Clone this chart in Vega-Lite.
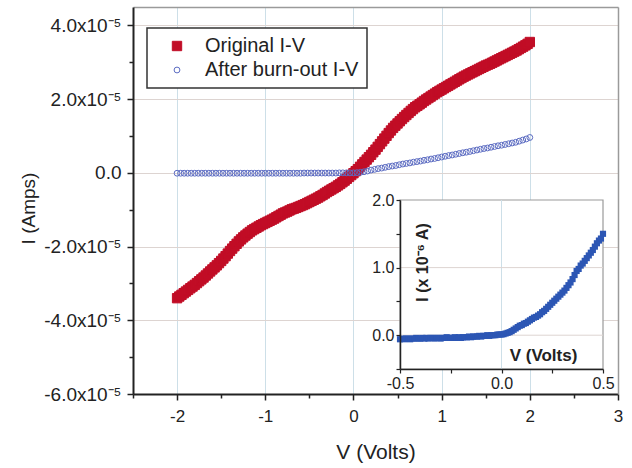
{
  "$schema": "https://vega.github.io/schema/vega-lite/v6.json",
  "width": 485,
  "height": 387,
  "autosize": {"type": "none"},
  "padding": {"left": 133, "top": 7, "right": 14, "bottom": 74},
  "background": "white",
  "config": {
    "font": "Liberation Sans",
    "view": {"stroke": null},
    "legend": {
      "orient": "none",
      "strokeColor": "#333333",
      "strokeWidth": 1.5,
      "fillColor": "white",
      "padding": 8,
      "labelFontSize": 20,
      "labelColor": "#222222",
      "symbolOffset": 12,
      "labelOffset": 18,
      "rowPadding": 4,
      "symbolStrokeWidth": 1
    }
  },
  "datasets": {
    "main": [
      {"series": "Original I-V", "V": -2.000, "I": -3.400e-5},
      {"series": "Original I-V", "V": -1.975, "I": -3.355e-5},
      {"series": "Original I-V", "V": -1.950, "I": -3.310e-5},
      {"series": "Original I-V", "V": -1.925, "I": -3.265e-5},
      {"series": "Original I-V", "V": -1.900, "I": -3.220e-5},
      {"series": "Original I-V", "V": -1.875, "I": -3.175e-5},
      {"series": "Original I-V", "V": -1.850, "I": -3.130e-5},
      {"series": "Original I-V", "V": -1.825, "I": -3.085e-5},
      {"series": "Original I-V", "V": -1.800, "I": -3.040e-5},
      {"series": "Original I-V", "V": -1.775, "I": -2.990e-5},
      {"series": "Original I-V", "V": -1.750, "I": -2.940e-5},
      {"series": "Original I-V", "V": -1.725, "I": -2.890e-5},
      {"series": "Original I-V", "V": -1.700, "I": -2.840e-5},
      {"series": "Original I-V", "V": -1.675, "I": -2.785e-5},
      {"series": "Original I-V", "V": -1.650, "I": -2.730e-5},
      {"series": "Original I-V", "V": -1.625, "I": -2.675e-5},
      {"series": "Original I-V", "V": -1.600, "I": -2.620e-5},
      {"series": "Original I-V", "V": -1.575, "I": -2.565e-5},
      {"series": "Original I-V", "V": -1.550, "I": -2.510e-5},
      {"series": "Original I-V", "V": -1.525, "I": -2.450e-5},
      {"series": "Original I-V", "V": -1.500, "I": -2.390e-5},
      {"series": "Original I-V", "V": -1.475, "I": -2.325e-5},
      {"series": "Original I-V", "V": -1.450, "I": -2.260e-5},
      {"series": "Original I-V", "V": -1.425, "I": -2.190e-5},
      {"series": "Original I-V", "V": -1.400, "I": -2.120e-5},
      {"series": "Original I-V", "V": -1.375, "I": -2.055e-5},
      {"series": "Original I-V", "V": -1.350, "I": -1.990e-5},
      {"series": "Original I-V", "V": -1.325, "I": -1.925e-5},
      {"series": "Original I-V", "V": -1.300, "I": -1.860e-5},
      {"series": "Original I-V", "V": -1.275, "I": -1.805e-5},
      {"series": "Original I-V", "V": -1.250, "I": -1.750e-5},
      {"series": "Original I-V", "V": -1.225, "I": -1.700e-5},
      {"series": "Original I-V", "V": -1.200, "I": -1.650e-5},
      {"series": "Original I-V", "V": -1.175, "I": -1.605e-5},
      {"series": "Original I-V", "V": -1.150, "I": -1.560e-5},
      {"series": "Original I-V", "V": -1.125, "I": -1.525e-5},
      {"series": "Original I-V", "V": -1.100, "I": -1.490e-5},
      {"series": "Original I-V", "V": -1.075, "I": -1.455e-5},
      {"series": "Original I-V", "V": -1.050, "I": -1.420e-5},
      {"series": "Original I-V", "V": -1.025, "I": -1.390e-5},
      {"series": "Original I-V", "V": -1.000, "I": -1.360e-5},
      {"series": "Original I-V", "V": -0.975, "I": -1.330e-5},
      {"series": "Original I-V", "V": -0.950, "I": -1.300e-5},
      {"series": "Original I-V", "V": -0.925, "I": -1.270e-5},
      {"series": "Original I-V", "V": -0.900, "I": -1.240e-5},
      {"series": "Original I-V", "V": -0.875, "I": -1.205e-5},
      {"series": "Original I-V", "V": -0.850, "I": -1.170e-5},
      {"series": "Original I-V", "V": -0.825, "I": -1.135e-5},
      {"series": "Original I-V", "V": -0.800, "I": -1.100e-5},
      {"series": "Original I-V", "V": -0.775, "I": -1.075e-5},
      {"series": "Original I-V", "V": -0.750, "I": -1.050e-5},
      {"series": "Original I-V", "V": -0.725, "I": -1.020e-5},
      {"series": "Original I-V", "V": -0.700, "I": -0.990e-5},
      {"series": "Original I-V", "V": -0.675, "I": -0.970e-5},
      {"series": "Original I-V", "V": -0.650, "I": -0.950e-5},
      {"series": "Original I-V", "V": -0.625, "I": -0.925e-5},
      {"series": "Original I-V", "V": -0.600, "I": -0.900e-5},
      {"series": "Original I-V", "V": -0.575, "I": -0.875e-5},
      {"series": "Original I-V", "V": -0.550, "I": -0.850e-5},
      {"series": "Original I-V", "V": -0.525, "I": -0.820e-5},
      {"series": "Original I-V", "V": -0.500, "I": -0.790e-5},
      {"series": "Original I-V", "V": -0.475, "I": -0.760e-5},
      {"series": "Original I-V", "V": -0.450, "I": -0.730e-5},
      {"series": "Original I-V", "V": -0.425, "I": -0.700e-5},
      {"series": "Original I-V", "V": -0.400, "I": -0.670e-5},
      {"series": "Original I-V", "V": -0.375, "I": -0.635e-5},
      {"series": "Original I-V", "V": -0.350, "I": -0.600e-5},
      {"series": "Original I-V", "V": -0.325, "I": -0.560e-5},
      {"series": "Original I-V", "V": -0.300, "I": -0.520e-5},
      {"series": "Original I-V", "V": -0.275, "I": -0.485e-5},
      {"series": "Original I-V", "V": -0.250, "I": -0.450e-5},
      {"series": "Original I-V", "V": -0.225, "I": -0.415e-5},
      {"series": "Original I-V", "V": -0.200, "I": -0.380e-5},
      {"series": "Original I-V", "V": -0.175, "I": -0.340e-5},
      {"series": "Original I-V", "V": -0.150, "I": -0.300e-5},
      {"series": "Original I-V", "V": -0.125, "I": -0.255e-5},
      {"series": "Original I-V", "V": -0.100, "I": -0.210e-5},
      {"series": "Original I-V", "V": -0.075, "I": -0.160e-5},
      {"series": "Original I-V", "V": -0.050, "I": -0.110e-5},
      {"series": "Original I-V", "V": -0.025, "I": -0.060e-5},
      {"series": "Original I-V", "V": 0.000, "I": -0.010e-5},
      {"series": "Original I-V", "V": 0.025, "I": 0.045e-5},
      {"series": "Original I-V", "V": 0.050, "I": 0.100e-5},
      {"series": "Original I-V", "V": 0.075, "I": 0.165e-5},
      {"series": "Original I-V", "V": 0.100, "I": 0.230e-5},
      {"series": "Original I-V", "V": 0.125, "I": 0.295e-5},
      {"series": "Original I-V", "V": 0.150, "I": 0.360e-5},
      {"series": "Original I-V", "V": 0.175, "I": 0.425e-5},
      {"series": "Original I-V", "V": 0.200, "I": 0.490e-5},
      {"series": "Original I-V", "V": 0.225, "I": 0.560e-5},
      {"series": "Original I-V", "V": 0.250, "I": 0.630e-5},
      {"series": "Original I-V", "V": 0.275, "I": 0.705e-5},
      {"series": "Original I-V", "V": 0.300, "I": 0.780e-5},
      {"series": "Original I-V", "V": 0.325, "I": 0.855e-5},
      {"series": "Original I-V", "V": 0.350, "I": 0.930e-5},
      {"series": "Original I-V", "V": 0.375, "I": 1.005e-5},
      {"series": "Original I-V", "V": 0.400, "I": 1.080e-5},
      {"series": "Original I-V", "V": 0.425, "I": 1.150e-5},
      {"series": "Original I-V", "V": 0.450, "I": 1.220e-5},
      {"series": "Original I-V", "V": 0.475, "I": 1.280e-5},
      {"series": "Original I-V", "V": 0.500, "I": 1.340e-5},
      {"series": "Original I-V", "V": 0.525, "I": 1.400e-5},
      {"series": "Original I-V", "V": 0.550, "I": 1.460e-5},
      {"series": "Original I-V", "V": 0.575, "I": 1.515e-5},
      {"series": "Original I-V", "V": 0.600, "I": 1.570e-5},
      {"series": "Original I-V", "V": 0.625, "I": 1.625e-5},
      {"series": "Original I-V", "V": 0.650, "I": 1.680e-5},
      {"series": "Original I-V", "V": 0.675, "I": 1.730e-5},
      {"series": "Original I-V", "V": 0.700, "I": 1.780e-5},
      {"series": "Original I-V", "V": 0.725, "I": 1.820e-5},
      {"series": "Original I-V", "V": 0.750, "I": 1.860e-5},
      {"series": "Original I-V", "V": 0.775, "I": 1.905e-5},
      {"series": "Original I-V", "V": 0.800, "I": 1.950e-5},
      {"series": "Original I-V", "V": 0.825, "I": 1.990e-5},
      {"series": "Original I-V", "V": 0.850, "I": 2.030e-5},
      {"series": "Original I-V", "V": 0.875, "I": 2.070e-5},
      {"series": "Original I-V", "V": 0.900, "I": 2.110e-5},
      {"series": "Original I-V", "V": 0.925, "I": 2.150e-5},
      {"series": "Original I-V", "V": 0.950, "I": 2.190e-5},
      {"series": "Original I-V", "V": 0.975, "I": 2.225e-5},
      {"series": "Original I-V", "V": 1.000, "I": 2.260e-5},
      {"series": "Original I-V", "V": 1.025, "I": 2.295e-5},
      {"series": "Original I-V", "V": 1.050, "I": 2.330e-5},
      {"series": "Original I-V", "V": 1.075, "I": 2.365e-5},
      {"series": "Original I-V", "V": 1.100, "I": 2.400e-5},
      {"series": "Original I-V", "V": 1.125, "I": 2.435e-5},
      {"series": "Original I-V", "V": 1.150, "I": 2.470e-5},
      {"series": "Original I-V", "V": 1.175, "I": 2.505e-5},
      {"series": "Original I-V", "V": 1.200, "I": 2.540e-5},
      {"series": "Original I-V", "V": 1.225, "I": 2.575e-5},
      {"series": "Original I-V", "V": 1.250, "I": 2.610e-5},
      {"series": "Original I-V", "V": 1.275, "I": 2.640e-5},
      {"series": "Original I-V", "V": 1.300, "I": 2.670e-5},
      {"series": "Original I-V", "V": 1.325, "I": 2.700e-5},
      {"series": "Original I-V", "V": 1.350, "I": 2.730e-5},
      {"series": "Original I-V", "V": 1.375, "I": 2.760e-5},
      {"series": "Original I-V", "V": 1.400, "I": 2.790e-5},
      {"series": "Original I-V", "V": 1.425, "I": 2.820e-5},
      {"series": "Original I-V", "V": 1.450, "I": 2.850e-5},
      {"series": "Original I-V", "V": 1.475, "I": 2.880e-5},
      {"series": "Original I-V", "V": 1.500, "I": 2.910e-5},
      {"series": "Original I-V", "V": 1.525, "I": 2.935e-5},
      {"series": "Original I-V", "V": 1.550, "I": 2.960e-5},
      {"series": "Original I-V", "V": 1.575, "I": 2.990e-5},
      {"series": "Original I-V", "V": 1.600, "I": 3.020e-5},
      {"series": "Original I-V", "V": 1.625, "I": 3.050e-5},
      {"series": "Original I-V", "V": 1.650, "I": 3.080e-5},
      {"series": "Original I-V", "V": 1.675, "I": 3.110e-5},
      {"series": "Original I-V", "V": 1.700, "I": 3.140e-5},
      {"series": "Original I-V", "V": 1.725, "I": 3.170e-5},
      {"series": "Original I-V", "V": 1.750, "I": 3.200e-5},
      {"series": "Original I-V", "V": 1.775, "I": 3.230e-5},
      {"series": "Original I-V", "V": 1.800, "I": 3.260e-5},
      {"series": "Original I-V", "V": 1.825, "I": 3.290e-5},
      {"series": "Original I-V", "V": 1.850, "I": 3.320e-5},
      {"series": "Original I-V", "V": 1.875, "I": 3.355e-5},
      {"series": "Original I-V", "V": 1.900, "I": 3.390e-5},
      {"series": "Original I-V", "V": 1.925, "I": 3.425e-5},
      {"series": "Original I-V", "V": 1.950, "I": 3.460e-5},
      {"series": "Original I-V", "V": 1.975, "I": 3.500e-5},
      {"series": "Original I-V", "V": 2.000, "I": 3.550e-5},
      {"series": "After burn-out I-V", "V": -2.00, "I": -1e-7},
      {"series": "After burn-out I-V", "V": -1.96, "I": -1e-7},
      {"series": "After burn-out I-V", "V": -1.92, "I": -1e-7},
      {"series": "After burn-out I-V", "V": -1.88, "I": -1e-7},
      {"series": "After burn-out I-V", "V": -1.84, "I": -1e-7},
      {"series": "After burn-out I-V", "V": -1.80, "I": -1e-7},
      {"series": "After burn-out I-V", "V": -1.76, "I": -1e-7},
      {"series": "After burn-out I-V", "V": -1.72, "I": -1e-7},
      {"series": "After burn-out I-V", "V": -1.68, "I": -1e-7},
      {"series": "After burn-out I-V", "V": -1.64, "I": -1e-7},
      {"series": "After burn-out I-V", "V": -1.60, "I": -1e-7},
      {"series": "After burn-out I-V", "V": -1.56, "I": -1e-7},
      {"series": "After burn-out I-V", "V": -1.52, "I": -1e-7},
      {"series": "After burn-out I-V", "V": -1.48, "I": -1e-7},
      {"series": "After burn-out I-V", "V": -1.44, "I": -1e-7},
      {"series": "After burn-out I-V", "V": -1.40, "I": -1e-7},
      {"series": "After burn-out I-V", "V": -1.36, "I": -1e-7},
      {"series": "After burn-out I-V", "V": -1.32, "I": -1e-7},
      {"series": "After burn-out I-V", "V": -1.28, "I": -1e-7},
      {"series": "After burn-out I-V", "V": -1.24, "I": -1e-7},
      {"series": "After burn-out I-V", "V": -1.20, "I": -1e-7},
      {"series": "After burn-out I-V", "V": -1.16, "I": -1e-7},
      {"series": "After burn-out I-V", "V": -1.12, "I": -1e-7},
      {"series": "After burn-out I-V", "V": -1.08, "I": -1e-7},
      {"series": "After burn-out I-V", "V": -1.04, "I": -1e-7},
      {"series": "After burn-out I-V", "V": -1.00, "I": -1e-7},
      {"series": "After burn-out I-V", "V": -0.96, "I": -1e-7},
      {"series": "After burn-out I-V", "V": -0.92, "I": -1e-7},
      {"series": "After burn-out I-V", "V": -0.88, "I": -1e-7},
      {"series": "After burn-out I-V", "V": -0.84, "I": -1e-7},
      {"series": "After burn-out I-V", "V": -0.80, "I": -1e-7},
      {"series": "After burn-out I-V", "V": -0.76, "I": -1e-7},
      {"series": "After burn-out I-V", "V": -0.72, "I": -1e-7},
      {"series": "After burn-out I-V", "V": -0.68, "I": -1e-7},
      {"series": "After burn-out I-V", "V": -0.64, "I": -1e-7},
      {"series": "After burn-out I-V", "V": -0.60, "I": -1e-7},
      {"series": "After burn-out I-V", "V": -0.56, "I": -5e-8},
      {"series": "After burn-out I-V", "V": -0.52, "I": -5e-8},
      {"series": "After burn-out I-V", "V": -0.48, "I": -5e-8},
      {"series": "After burn-out I-V", "V": -0.44, "I": -5e-8},
      {"series": "After burn-out I-V", "V": -0.40, "I": -5e-8},
      {"series": "After burn-out I-V", "V": -0.36, "I": -5e-8},
      {"series": "After burn-out I-V", "V": -0.32, "I": -5e-8},
      {"series": "After burn-out I-V", "V": -0.28, "I": -5e-8},
      {"series": "After burn-out I-V", "V": -0.24, "I": -5e-8},
      {"series": "After burn-out I-V", "V": -0.20, "I": -5e-8},
      {"series": "After burn-out I-V", "V": -0.16, "I": 0},
      {"series": "After burn-out I-V", "V": -0.12, "I": 0},
      {"series": "After burn-out I-V", "V": -0.08, "I": 0},
      {"series": "After burn-out I-V", "V": -0.04, "I": 0},
      {"series": "After burn-out I-V", "V": 0.00, "I": 0},
      {"series": "After burn-out I-V", "V": 0.04, "I": 5e-8},
      {"series": "After burn-out I-V", "V": 0.08, "I": 1.5e-7},
      {"series": "After burn-out I-V", "V": 0.12, "I": 3e-7},
      {"series": "After burn-out I-V", "V": 0.16, "I": 5e-7},
      {"series": "After burn-out I-V", "V": 0.20, "I": 7.5e-7},
      {"series": "After burn-out I-V", "V": 0.24, "I": 9.5e-7},
      {"series": "After burn-out I-V", "V": 0.28, "I": 1.15e-6},
      {"series": "After burn-out I-V", "V": 0.32, "I": 1.3e-6},
      {"series": "After burn-out I-V", "V": 0.36, "I": 1.5e-6},
      {"series": "After burn-out I-V", "V": 0.40, "I": 1.7e-6},
      {"series": "After burn-out I-V", "V": 0.44, "I": 1.85e-6},
      {"series": "After burn-out I-V", "V": 0.48, "I": 2.0e-6},
      {"series": "After burn-out I-V", "V": 0.52, "I": 2.2e-6},
      {"series": "After burn-out I-V", "V": 0.56, "I": 2.4e-6},
      {"series": "After burn-out I-V", "V": 0.60, "I": 2.55e-6},
      {"series": "After burn-out I-V", "V": 0.64, "I": 2.7e-6},
      {"series": "After burn-out I-V", "V": 0.68, "I": 2.9e-6},
      {"series": "After burn-out I-V", "V": 0.72, "I": 3.05e-6},
      {"series": "After burn-out I-V", "V": 0.76, "I": 3.2e-6},
      {"series": "After burn-out I-V", "V": 0.80, "I": 3.4e-6},
      {"series": "After burn-out I-V", "V": 0.84, "I": 3.55e-6},
      {"series": "After burn-out I-V", "V": 0.88, "I": 3.75e-6},
      {"series": "After burn-out I-V", "V": 0.92, "I": 3.9e-6},
      {"series": "After burn-out I-V", "V": 0.96, "I": 4.1e-6},
      {"series": "After burn-out I-V", "V": 1.00, "I": 4.3e-6},
      {"series": "After burn-out I-V", "V": 1.04, "I": 4.5e-6},
      {"series": "After burn-out I-V", "V": 1.08, "I": 4.7e-6},
      {"series": "After burn-out I-V", "V": 1.12, "I": 4.85e-6},
      {"series": "After burn-out I-V", "V": 1.16, "I": 5.05e-6},
      {"series": "After burn-out I-V", "V": 1.20, "I": 5.25e-6},
      {"series": "After burn-out I-V", "V": 1.24, "I": 5.45e-6},
      {"series": "After burn-out I-V", "V": 1.28, "I": 5.6e-6},
      {"series": "After burn-out I-V", "V": 1.32, "I": 5.8e-6},
      {"series": "After burn-out I-V", "V": 1.36, "I": 6.0e-6},
      {"series": "After burn-out I-V", "V": 1.40, "I": 6.2e-6},
      {"series": "After burn-out I-V", "V": 1.44, "I": 6.4e-6},
      {"series": "After burn-out I-V", "V": 1.48, "I": 6.6e-6},
      {"series": "After burn-out I-V", "V": 1.52, "I": 6.75e-6},
      {"series": "After burn-out I-V", "V": 1.56, "I": 6.95e-6},
      {"series": "After burn-out I-V", "V": 1.60, "I": 7.15e-6},
      {"series": "After burn-out I-V", "V": 1.64, "I": 7.35e-6},
      {"series": "After burn-out I-V", "V": 1.68, "I": 7.5e-6},
      {"series": "After burn-out I-V", "V": 1.72, "I": 7.7e-6},
      {"series": "After burn-out I-V", "V": 1.76, "I": 7.9e-6},
      {"series": "After burn-out I-V", "V": 1.80, "I": 8.1e-6},
      {"series": "After burn-out I-V", "V": 1.84, "I": 8.3e-6},
      {"series": "After burn-out I-V", "V": 1.88, "I": 8.6e-6},
      {"series": "After burn-out I-V", "V": 1.92, "I": 8.9e-6},
      {"series": "After burn-out I-V", "V": 1.96, "I": 9.2e-6},
      {"series": "After burn-out I-V", "V": 2.00, "I": 9.6e-6}
    ],
    "frame": [{"V": -0.5, "V2": 0.5, "I": -0.5, "I2": 2.0}],
    "inset": [
      {"V": -0.50, "I": -0.06}, {"V": -0.49, "I": -0.05}, {"V": -0.48, "I": -0.06}, {"V": -0.47, "I": -0.05},
      {"V": -0.46, "I": -0.05}, {"V": -0.45, "I": -0.06}, {"V": -0.44, "I": -0.05}, {"V": -0.43, "I": -0.05},
      {"V": -0.42, "I": -0.04}, {"V": -0.41, "I": -0.05}, {"V": -0.40, "I": -0.05}, {"V": -0.39, "I": -0.04},
      {"V": -0.38, "I": -0.05}, {"V": -0.37, "I": -0.04}, {"V": -0.36, "I": -0.05}, {"V": -0.35, "I": -0.04},
      {"V": -0.34, "I": -0.04}, {"V": -0.33, "I": -0.05}, {"V": -0.32, "I": -0.04}, {"V": -0.31, "I": -0.04},
      {"V": -0.30, "I": -0.05}, {"V": -0.29, "I": -0.04}, {"V": -0.28, "I": -0.04}, {"V": -0.27, "I": -0.03},
      {"V": -0.26, "I": -0.04}, {"V": -0.25, "I": -0.04}, {"V": -0.24, "I": -0.04}, {"V": -0.23, "I": -0.03},
      {"V": -0.22, "I": -0.04}, {"V": -0.21, "I": -0.03}, {"V": -0.20, "I": -0.04}, {"V": -0.19, "I": -0.03},
      {"V": -0.18, "I": -0.03}, {"V": -0.17, "I": -0.03}, {"V": -0.16, "I": -0.02}, {"V": -0.15, "I": -0.03},
      {"V": -0.14, "I": -0.02}, {"V": -0.13, "I": -0.02}, {"V": -0.12, "I": -0.02}, {"V": -0.11, "I": -0.01},
      {"V": -0.10, "I": -0.02}, {"V": -0.09, "I": -0.01}, {"V": -0.08, "I": -0.01}, {"V": -0.07, "I": 0.0},
      {"V": -0.06, "I": -0.01}, {"V": -0.05, "I": 0.0}, {"V": -0.04, "I": 0.0}, {"V": -0.03, "I": 0.0},
      {"V": -0.02, "I": 0.01}, {"V": -0.01, "I": 0.01}, {"V": 0.00, "I": 0.01}, {"V": 0.01, "I": 0.015},
      {"V": 0.02, "I": 0.025}, {"V": 0.03, "I": 0.035}, {"V": 0.04, "I": 0.045}, {"V": 0.05, "I": 0.06},
      {"V": 0.06, "I": 0.08}, {"V": 0.07, "I": 0.10}, {"V": 0.08, "I": 0.12}, {"V": 0.09, "I": 0.14},
      {"V": 0.10, "I": 0.15}, {"V": 0.11, "I": 0.17}, {"V": 0.12, "I": 0.18}, {"V": 0.13, "I": 0.20},
      {"V": 0.14, "I": 0.22}, {"V": 0.15, "I": 0.24}, {"V": 0.16, "I": 0.26}, {"V": 0.17, "I": 0.27},
      {"V": 0.18, "I": 0.29}, {"V": 0.19, "I": 0.31}, {"V": 0.20, "I": 0.34}, {"V": 0.21, "I": 0.36},
      {"V": 0.22, "I": 0.39}, {"V": 0.23, "I": 0.42}, {"V": 0.24, "I": 0.45}, {"V": 0.25, "I": 0.48},
      {"V": 0.26, "I": 0.51}, {"V": 0.27, "I": 0.54}, {"V": 0.28, "I": 0.57}, {"V": 0.29, "I": 0.60},
      {"V": 0.30, "I": 0.63}, {"V": 0.31, "I": 0.66}, {"V": 0.32, "I": 0.70}, {"V": 0.33, "I": 0.74},
      {"V": 0.34, "I": 0.78}, {"V": 0.35, "I": 0.83}, {"V": 0.36, "I": 0.89}, {"V": 0.37, "I": 0.95},
      {"V": 0.38, "I": 0.98}, {"V": 0.39, "I": 1.03}, {"V": 0.40, "I": 1.06}, {"V": 0.41, "I": 1.10},
      {"V": 0.42, "I": 1.14}, {"V": 0.43, "I": 1.18}, {"V": 0.44, "I": 1.22}, {"V": 0.45, "I": 1.26},
      {"V": 0.46, "I": 1.31}, {"V": 0.47, "I": 1.36}, {"V": 0.48, "I": 1.40}, {"V": 0.49, "I": 1.43},
      {"V": 0.50, "I": 1.50}
    ]
  },
  "resolve": {
    "scale": {"x": "independent", "y": "independent"},
    "axis": {"x": "independent", "y": "independent"}
  },
  "layer": [
    {
      "data": {"name": "main"},
      "resolve": {"axis": {"x": "independent", "y": "independent"}},
      "layer": [
        {
          "transform": [{"filter": "datum.series === 'Original I-V'"}],
          "mark": {"type": "point", "strokeWidth": 1, "opacity": 1, "fillOpacity": 1},
          "encoding": {
            "x": {
              "field": "V", "type": "quantitative",
              "scale": {"domain": [-2.5, 3], "nice": false, "zero": false},
              "axis": {
                "orient": "bottom",
                "title": "V (Volts)",
                "values": [-2.5, -2, -1.5, -1, -0.5, 0, 0.5, 1, 1.5, 2, 2.5, 3],
                "labelExpr": "datum.value % 1 === 0 ? (datum.value < 0 ? '-' : '') + abs(datum.value) : ''",
                "grid": true,
                "gridColor": "#cddfe8",
                "gridWidth": 1,
                "gridOpacity": {"condition": {"test": "datum.value % 1 === 0", "value": 1}, "value": 0},
                "tickSize": {"condition": {"test": "datum.value % 1 === 0", "value": 6}, "value": 4},
                "tickColor": "#222222", "tickWidth": 1.5,
                "domainColor": "#222222", "domainWidth": 2,
                "labelFontSize": 17, "labelColor": "#222222", "labelPadding": 8,
                "labelFlush": false, "labelOverlap": false,
                "titleFontSize": 21, "titleFontWeight": "normal", "titleColor": "#222222", "titlePadding": 17
              }
            },
            "y": {
              "field": "I", "type": "quantitative",
              "scale": {"domain": [-6e-5, 4.5e-5], "nice": false, "zero": false},
              "axis": {
                "orient": "left",
                "title": "I (Amps)",
                "values": [-6e-5, -5e-5, -4e-5, -3e-5, -2e-5, -1e-5, 0, 1e-5, 2e-5, 3e-5, 4e-5],
                "labelExpr": "abs(round(datum.value * 1e5)) % 2 === 0 ? (round(datum.value * 1e5) === 0 ? '0.0' : (datum.value < 0 ? '-' : '') + format(abs(datum.value) * 1e5, '.1f') + 'x10⁻⁵') : ''",
                "grid": true,
                "gridColor": "#ddd4d1",
                "gridWidth": 1,
                "gridOpacity": {"condition": {"test": "abs(round(datum.value * 1e5)) % 2 === 0", "value": 1}, "value": 0},
                "tickSize": {"condition": {"test": "abs(round(datum.value * 1e5)) % 2 === 0", "value": 6}, "value": 4},
                "tickColor": "#222222", "tickWidth": 1.5,
                "domainColor": "#222222", "domainWidth": 2,
                "labelFontSize": 19, "labelColor": "#222222", "labelPadding": 6,
                "labelFlush": false, "labelOverlap": false,
                "titleFontSize": 19, "titleFontWeight": "normal", "titleColor": "#222222",
                "titleX": -105, "titleY": 201, "titleAngle": -90, "titleAlign": "center", "titleBaseline": "middle"
              }
            },
            "fill": {
              "field": "series", "type": "nominal",
              "scale": {"domain": ["Original I-V", "After burn-out I-V"], "range": ["#c10d26", "transparent"]},
              "legend": {"title": null, "orient": "none", "legendX": 14, "legendY": 21}
            },
            "stroke": {
              "field": "series", "type": "nominal",
              "scale": {"domain": ["Original I-V", "After burn-out I-V"], "range": ["#c10d26", "#5b6bc2"]},
              "legend": {"title": null, "orient": "none", "legendX": 14, "legendY": 21}
            },
            "shape": {
              "field": "series", "type": "nominal",
              "scale": {"domain": ["Original I-V", "After burn-out I-V"], "range": ["square", "circle"]},
              "legend": {"title": null, "orient": "none", "legendX": 14, "legendY": 21}
            },
            "size": {
              "field": "series", "type": "nominal",
              "scale": {"domain": ["Original I-V", "After burn-out I-V"], "range": [88, 34]},
              "legend": {"title": null, "orient": "none", "legendX": 14, "legendY": 21}
            }
          }
        },
        {
          "transform": [{"filter": "datum.series === 'After burn-out I-V'"}],
          "mark": {"type": "point", "strokeWidth": 1, "opacity": 1, "fillOpacity": 1},
          "encoding": {
            "x": {
              "field": "V", "type": "quantitative",
              "scale": {"domain": [-2.5, 3], "nice": false, "zero": false},
              "axis": {
                "orient": "top", "title": null, "labels": false, "ticks": false, "grid": false,
                "domainColor": "#9a9a9a", "domainWidth": 1.5
              }
            },
            "y": {
              "field": "I", "type": "quantitative",
              "scale": {"domain": [-6e-5, 4.5e-5], "nice": false, "zero": false},
              "axis": {
                "orient": "right", "title": null, "labels": false, "ticks": false, "grid": false,
                "domainColor": "#9a9a9a", "domainWidth": 1.5
              }
            },
            "fill": {
              "field": "series", "type": "nominal",
              "scale": {"domain": ["Original I-V", "After burn-out I-V"], "range": ["#c10d26", "transparent"]},
              "legend": {"title": null, "orient": "none", "legendX": 14, "legendY": 21}
            },
            "stroke": {
              "field": "series", "type": "nominal",
              "scale": {"domain": ["Original I-V", "After burn-out I-V"], "range": ["#c10d26", "#5b6bc2"]},
              "legend": {"title": null, "orient": "none", "legendX": 14, "legendY": 21}
            },
            "shape": {
              "field": "series", "type": "nominal",
              "scale": {"domain": ["Original I-V", "After burn-out I-V"], "range": ["square", "circle"]},
              "legend": {"title": null, "orient": "none", "legendX": 14, "legendY": 21}
            },
            "size": {
              "field": "series", "type": "nominal",
              "scale": {"domain": ["Original I-V", "After burn-out I-V"], "range": [88, 34]},
              "legend": {"title": null, "orient": "none", "legendX": 14, "legendY": 21}
            }
          }
        }
      ]
    },
    {
      "layer": [
        {
          "data": {"name": "frame"},
          "mark": {"type": "rect", "fill": "white", "stroke": "#9a9a9a", "strokeWidth": 1.2},
          "encoding": {
            "x": {
              "field": "V", "type": "quantitative",
              "scale": {"domain": [-0.5, 0.5], "range": [267, 470], "nice": false, "zero": false},
              "axis": {
                "orient": "bottom", "offset": -25, "zindex": 1,
                "title": "V (Volts)",
                "values": [-0.5, -0.25, 0, 0.25, 0.5],
                "labelExpr": "abs(datum.value * 2) % 1 === 0 ? (datum.value < 0 ? '-' : '') + format(abs(datum.value), '.1f') : ''",
                "grid": false,
                "tickSize": 4, "tickColor": "#222222", "tickWidth": 1.2,
                "domainColor": "#222222", "domainWidth": 1.5,
                "labelFontSize": 16, "labelColor": "#222222", "labelPadding": 2,
                "labelFlush": false, "labelOverlap": false,
                "titleFontSize": 17, "titleFontWeight": "bold", "titleColor": "#222222",
                "titleX": 410, "titleY": -14, "titleAlign": "center", "titleBaseline": "middle"
              }
            },
            "x2": {"field": "V2"},
            "y": {
              "field": "I", "type": "quantitative",
              "scale": {"domain": [-0.5, 2.0], "range": [362, 193], "nice": false, "zero": false},
              "axis": {
                "orient": "left", "offset": -267, "zindex": 1,
                "title": "I (x 10⁻⁶ A)",
                "values": [-0.5, 0, 0.5, 1, 1.5, 2],
                "labelExpr": "datum.value % 1 === 0 ? format(datum.value, '.1f') : ''",
                "grid": false,
                "tickSize": 4, "tickColor": "#222222", "tickWidth": 1.2,
                "domainColor": "#222222", "domainWidth": 1.5,
                "labelFontSize": 16, "labelColor": "#222222", "labelPadding": 2,
                "labelFlush": false, "labelOverlap": false,
                "titleFontSize": 16, "titleFontWeight": "bold", "titleColor": "#222222",
                "titleX": 22, "titleY": 255, "titleAngle": -90, "titleAlign": "center", "titleBaseline": "middle"
              }
            },
            "y2": {"field": "I2"}
          }
        },
        {
          "data": {"values": [{"V": 0}]},
          "mark": {"type": "rule", "color": "#cddfe8", "strokeWidth": 1},
          "encoding": {
            "x": {"field": "V", "type": "quantitative"},
            "y": {"datum": -0.5, "type": "quantitative"},
            "y2": {"datum": 2.0}
          }
        },
        {
          "data": {"values": [{"I": 0}, {"I": 1}]},
          "mark": {"type": "rule", "color": "#ddd4d1", "strokeWidth": 1},
          "encoding": {
            "x": {"datum": -0.5, "type": "quantitative"},
            "x2": {"datum": 0.5},
            "y": {"field": "I", "type": "quantitative"}
          }
        },
        {
          "data": {"name": "inset"},
          "mark": {"type": "square", "size": 38, "color": "#2c56b4", "opacity": 1},
          "encoding": {
            "x": {"field": "V", "type": "quantitative"},
            "y": {"field": "I", "type": "quantitative"}
          }
        }
      ]
    }
  ]
}
